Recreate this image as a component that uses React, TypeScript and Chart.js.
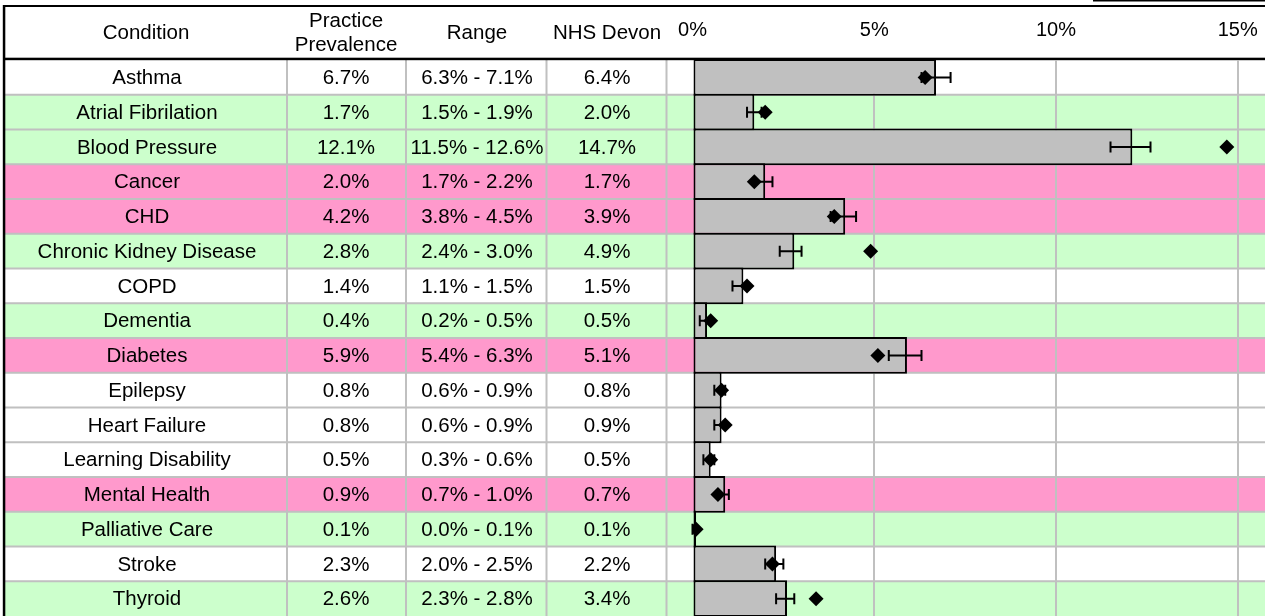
import { useEffect, useRef } from 'react';
import { Chart, registerables } from 'chart.js';

Chart.register(...registerables);

const conditions = [
  'Asthma', 'Atrial Fibrilation', 'Blood Pressure', 'Cancer', 'CHD',
  'Chronic Kidney Disease', 'COPD', 'Dementia', 'Diabetes', 'Epilepsy',
  'Heart Failure', 'Learning Disability', 'Mental Health', 'Palliative Care',
  'Stroke', 'Thyroid',
];
const practicePrevalence = [6.7, 1.7, 12.1, 2.0, 4.2, 2.8, 1.4, 0.4, 5.9, 0.8, 0.8, 0.5, 0.9, 0.1, 2.3, 2.6];
const rangeLow = [6.3, 1.5, 11.5, 1.7, 3.8, 2.4, 1.1, 0.2, 5.4, 0.6, 0.6, 0.3, 0.7, 0.0, 2.0, 2.3];
const rangeHigh = [7.1, 1.9, 12.6, 2.2, 4.5, 3.0, 1.5, 0.5, 6.3, 0.9, 0.9, 0.6, 1.0, 0.1, 2.5, 2.8];
const nhsDevon = [6.4, 2.0, 14.7, 1.7, 3.9, 4.9, 1.5, 0.5, 5.1, 0.8, 0.9, 0.5, 0.7, 0.1, 2.2, 3.4];
// 'same' = not significantly different, 'low' = significantly lower, 'high' = significantly higher
const rowStatus = [
  'same', 'low', 'low', 'high', 'high', 'low', 'same', 'low', 'high', 'same',
  'same', 'same', 'high', 'low', 'same', 'low',
];
const xTickValues = [0, 5, 10, 15];
const xMin = 0;
const xMax = 15.75;

const FONT = '"Liberation Sans", Arial, sans-serif';
const STATUS_COLORS: Record<string, string> = { same: '#FFFFFF', low: '#CCFFCC', high: '#FF99CC' };

const fmt = (v: number) => v.toFixed(1) + '%';

const tablePlugin = {
  id: 'tablePlugin',
  beforeDraw(chart: any) {
    const ctx = chart.ctx as CanvasRenderingContext2D;
    const y = chart.scales.y;
    const W = chart.width;
    const H = chart.height;
    const top = chart.chartArea.top;
    const half = (y.getPixelForValue(1) - y.getPixelForValue(0)) / 2;
    ctx.save();
    ctx.fillStyle = '#FFFFFF';
    ctx.fillRect(0, 0, W, H);
    conditions.forEach((_, i) => {
      const c = y.getPixelForValue(i);
      ctx.fillStyle = STATUS_COLORS[rowStatus[i]];
      ctx.fillRect(4, c - half, W - 4, 2 * half);
    });
    ctx.fillStyle = '#C0C0C0';
    for (let i = 1; i < conditions.length; i++) {
      const b = y.getPixelForValue(i) - half;
      ctx.fillRect(4, b - 1, W - 4, 2);
    }
    for (const x of [287, 406, 546.5, 666.5]) {
      ctx.fillRect(x - 1, top, 2, H - top);
    }
    ctx.fillStyle = '#000000';
    ctx.fillRect(3, 5, W - 3, 2);
    ctx.fillRect(3, top - 2.3, W - 3, 2.5);
    ctx.fillRect(2.8, 5, 2.5, H - 5);
    ctx.fillRect(1093, 0, W - 1093, 1.5);

    ctx.font = `20.5px ${FONT}`;
    ctx.textAlign = 'center';
    ctx.textBaseline = 'middle';
    ctx.fillStyle = '#000000';
    ctx.fillText('Condition', 146, 33);
    ctx.fillText('Practice', 346, 21);
    ctx.fillText('Prevalence', 346, 45);
    ctx.fillText('Range', 477, 33);
    ctx.fillText('NHS Devon', 607, 33);
    conditions.forEach((name, i) => {
      const c = y.getPixelForValue(i) + 1;
      ctx.fillText(name, 147, c);
      ctx.fillText(fmt(practicePrevalence[i]), 346, c);
      ctx.fillText(`${fmt(rangeLow[i])} - ${fmt(rangeHigh[i])}`, 477, c);
      ctx.fillText(fmt(nhsDevon[i]), 607, c);
    });
    ctx.restore();
  },
  afterDatasetDraw(chart: any, args: any) {
    if (args.index !== 0) return;
    const ctx = chart.ctx as CanvasRenderingContext2D;
    const x = chart.scales.x;
    const y = chart.scales.y;
    ctx.save();
    ctx.strokeStyle = '#000000';
    ctx.lineWidth = 2;
    conditions.forEach((_, i) => {
      const c = y.getPixelForValue(i);
      const x1 = x.getPixelForValue(rangeLow[i]);
      const x2 = x.getPixelForValue(rangeHigh[i]);
      ctx.beginPath();
      ctx.moveTo(x1, c);
      ctx.lineTo(x2, c);
      ctx.moveTo(x1, c - 5.5);
      ctx.lineTo(x1, c + 5.5);
      ctx.moveTo(x2, c - 5.5);
      ctx.lineTo(x2, c + 5.5);
      ctx.stroke();
    });
    ctx.restore();
  },
};

export default function App() {
  const canvasRef = useRef<HTMLCanvasElement | null>(null);

  useEffect(() => {
    if (!canvasRef.current) return;
    const chart = new Chart(canvasRef.current, {
      type: 'bar',
      data: {
        labels: conditions,
        datasets: [
          {
            type: 'bar',
            label: 'Practice Prevalence',
            data: practicePrevalence,
            backgroundColor: '#C0C0C0',
            borderColor: '#000000',
            borderWidth: 2,
            borderSkipped: false,
            barPercentage: 1.058,
            categoryPercentage: 1,
            order: 2,
          },
          {
            type: 'line',
            label: 'NHS Devon',
            data: nhsDevon,
            showLine: false,
            pointStyle: 'rectRot',
            pointRadius: 7.5,
            pointBackgroundColor: '#000000',
            pointBorderWidth: 0,
            order: 1,
          },
        ],
      } as any,
      options: {
        indexAxis: 'y',
        animation: false,
        responsive: true,
        maintainAspectRatio: false,
        layout: { padding: 0, autoPadding: false },
        plugins: { legend: { display: false }, tooltip: { enabled: false } },
        scales: {
          x: {
            position: 'top',
            min: xMin,
            max: xMax,
            afterBuildTicks: (scale: any) => {
              scale.ticks = xTickValues.map((v) => ({ value: v }));
            },
            afterFit: (scale: any) => {
              scale.height = 60;
              scale.paddingLeft = 0;
              scale.paddingRight = 0;
            },
            ticks: {
              callback: (v: any) => v + '%',
              font: { family: FONT, size: 20 },
              color: '#000000',
              padding: 18,
              maxRotation: 0,
            },
            grid: {
              drawTicks: false,
              color: (c: any) => (c.tick && c.tick.value === 0 ? 'rgba(0,0,0,0)' : '#C0C0C0'),
              lineWidth: 2,
            },
            border: { display: false },
          },
          y: {
            afterFit: (scale: any) => {
              scale.width = 692.5;
              scale.paddingTop = 0;
              scale.paddingBottom = 0;
            },
            ticks: { display: false },
            grid: { display: false },
            border: { display: false },
          },
        },
      } as any,
      plugins: [tablePlugin],
    });
    return () => chart.destroy();
  }, []);

  return (
    <div style={{ position: 'absolute', left: 0, top: 0, width: 1265, height: 616 }}>
      <canvas ref={canvasRef} />
    </div>
  );
}
